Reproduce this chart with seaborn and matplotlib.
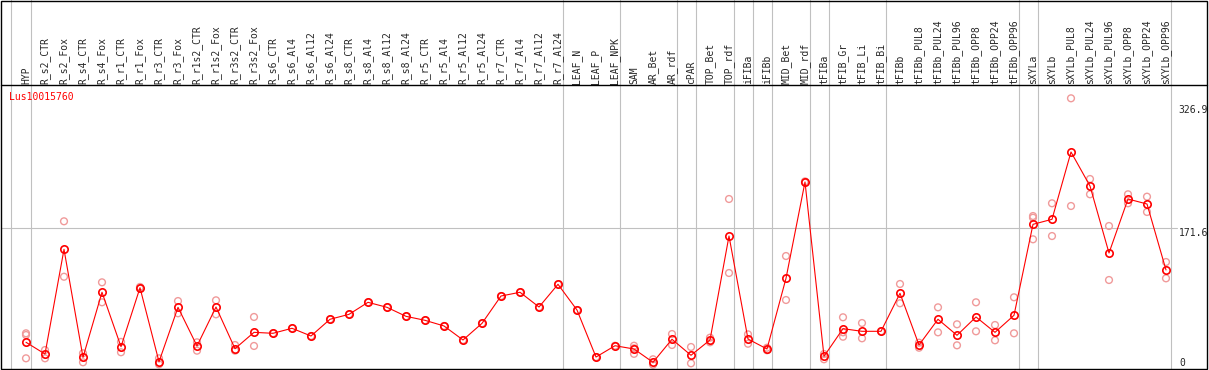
import pandas as pd
import matplotlib.pyplot as plt
import seaborn as sns
from matplotlib.lines import Line2D
from matplotlib.patches import Rectangle

# sample names, shown as rotated column headers
samples = ['HYP', 'R_s2_CTR', 'R_s2_Fox', 'R_s4_CTR', 'R_s4_Fox', 'R_r1_CTR', 'R_r1_Fox',
           'R_r3_CTR', 'R_r3_Fox', 'R_r1s2_CTR', 'R_r1s2_Fox', 'R_r3s2_CTR', 'R_r3s2_Fox',
           'R_s6_CTR', 'R_s6_Al4', 'R_s6_Al12', 'R_s6_Al24', 'R_s8_CTR', 'R_s8_Al4',
           'R_s8_Al12', 'R_s8_Al24', 'R_r5_CTR', 'R_r5_Al4', 'R_r5_Al12', 'R_r5_Al24',
           'R_r7_CTR', 'R_r7_Al4', 'R_r7_Al12', 'R_r7_Al24', 'LEAF_N', 'LEAF_P', 'LEAF_NPK',
           'SAM', 'AR_Bet', 'AR_rdf', 'cPAR', 'TOP_Bet', 'TOP_rdf', 'iFIBa', 'iFIBb',
           'MID_Bet', 'MID_rdf', 'tFIBa', 'tFIB_Gr', 'tFIB_Li', 'tFIB_Bi', 'tFIBb',
           'tFIBb_PUL8', 'tFIBb_PUL24', 'tFIBb_PUL96', 'tFIBb_OPP8', 'tFIBb_OPP24',
           'tFIBb_OPP96', 'sXYLa', 'sXYLb', 'sXYLb_PUL8', 'sXYLb_PUL24', 'sXYLb_PUL96',
           'sXYLb_OPP8', 'sXYLb_OPP24', 'sXYLb_OPP96']

# mean expression per sample
means = [28.5, 13.8, 145.2, 9.7, 91.3, 23.0, 97.0, 4.1, 72.4, 23.9, 72.8, 20.5, 41.0,
         39.8, 46.1, 36.4, 57.4, 63.6, 78.7, 72.4, 61.1, 56.1, 49.0, 31.4, 52.3,
         86.6, 91.3, 72.8, 101.3, 69.0, 10.0, 24.2,
         20.1, 3.4, 32.3, 12.2, 31.4, 161.9, 32.6, 20.1, 108.8, 229.7, 10.9, 45.6,
         42.3, 42.3, 90.0, 25.1, 57.4, 37.3, 60.3, 41.0, 62.4,
         176.6, 182.9, 267.4, 224.7, 140.6, 208.4, 202.1, 119.3]

# individual replicates per sample
reps = [[39.8, 37.7, 8.4], [18.8, 8.4], [180.4, 110.8], [14.7, 3.4], [103.8, 78.7],
        [29.0, 16.0], [96.0, 98.0], [8.4, 0.9], [80.3, 64.9], [28.5, 18.0], [81.2, 63.6],
        [25.1, 18.0], [60.3, 23.9],
        [39.8], [46.1], [36.4], [57.4], [63.6], [78.7], [72.4], [61.1], [56.1], [49.0],
        [31.4], [52.3], [86.6], [91.3], [72.8], [101.3], [69.0], [10.0], [24.2],
        [24.2, 21.0, 14.0], [7.2, 0.5], [38.9, 25.1], [22.6, 2.1], [34.3, 28.5],
        [208.4, 115.5], [38.5, 26.7], [21.7, 18.5], [136.8, 81.6], [229.0, 230.5],
        [13.8, 7.2], [59.9, 35.5, 41.0], [52.7, 33.5], [42.3], [101.7, 77.5],
        [28.0, 21.7], [72.4, 41.0], [51.1, 24.7], [78.7, 42.3], [50.2, 31.0],
        [85.0, 39.8], [187.0, 184.9, 157.8], [203.0, 161.9], [334.8, 199.6],
        [233.5, 214.3], [174.5, 106.7], [214.3, 203.0], [211.3, 192.1], [129.3, 108.8]]

# columns after which a grey separator is drawn
group_ends = [0, 28, 31, 34, 35, 37, 38, 39, 41, 42, 45, 52, 53, 60]
y_ticks = [326.9, 171.6]
gene = 'Lus10015760'

mean_df = pd.DataFrame({'pos': range(len(samples)), 'value': means})
rep_df = pd.DataFrame([(i, v) for i, r in enumerate(reps) for v in r], columns=['pos', 'value'])

sns.set_style('white')
plt.rcParams['font.family'] = ['DejaVu Sans Mono']

W, H = 1209, 370
fig = plt.figure(figsize=(W / 100, H / 100), dpi=100)
ax = fig.add_axes([1 / W, 1 - 369 / H, 1169 / W, 284 / H])
ax.set_xlim((1 - 26) / 19, (1170 - 26) / 19)
ax.set_ylim(-5.02, 351.5)
ax.axis('off')

# separators and the grid line
full = 369 / 284
ax.axvline(-0.8, ymin=0, ymax=full, color='#c0c0c0', lw=0.8, clip_on=False)
for g in group_ends:
    ax.axvline(g + 0.25, ymin=0, ymax=full, color='#c0c0c0', lw=0.8, clip_on=False)
ax.axhline(171.6, xmin=0, xmax=1176 / 1169, color='#c0c0c0', lw=0.8, clip_on=False)

sns.scatterplot(data=rep_df, x='pos', y='value', ax=ax, marker='o', s=24,
                facecolor='none', edgecolor='#f09a9a', linewidth=1.0, zorder=3, legend=False)
sns.lineplot(data=mean_df, x='pos', y='value', ax=ax, color='red', linewidth=0.8,
             marker='o', markersize=5.3, markerfacecolor='none', markeredgecolor='red',
             markeredgewidth=1.2, zorder=4)
ax.axis('off')

# column headers
for i, name in enumerate(samples):
    ax.text(i, (369 - 83.5) / 284, name, rotation=90, ha='center', va='bottom',
            fontsize=7, transform=ax.get_xaxis_transform(), clip_on=False)

# right-hand value labels
for t in y_ticks:
    ax.text(1177.5 / 1169, t, str(t), ha='left', va='top', fontsize=7,
            transform=ax.get_yaxis_transform(), clip_on=False)
ax.text(1178.5 / 1169, 8.8, '0', ha='left', va='top', fontsize=7,
        transform=ax.get_yaxis_transform(), clip_on=False)

fig.text(9 / W, 1 - 97.5 / H, gene, color='red', fontsize=7, ha='left', va='center')

# frame and header line
fig.add_artist(Rectangle((1 / W, 1 / H), 1206 / W, 368.5 / H, transform=fig.transFigure,
                         fill=False, ec='black', lw=1.0))
fig.add_artist(Line2D([1 / W, 1207 / W], [1 - 85 / H, 1 - 85 / H], transform=fig.transFigure,
                      color='black', lw=1.0))

fig.savefig('out.png', dpi=100)
